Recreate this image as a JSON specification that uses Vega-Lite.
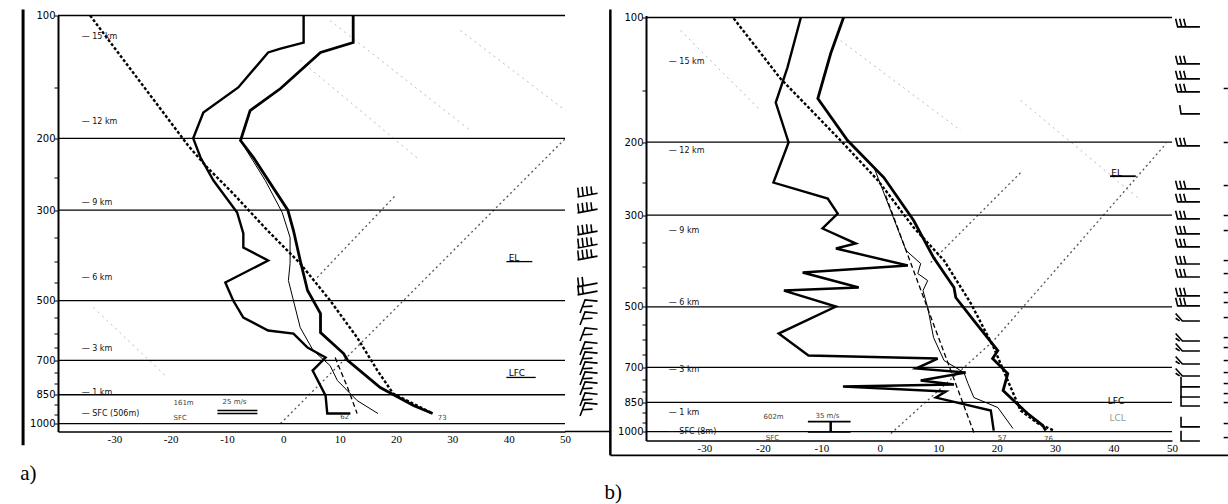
{
"$schema": "https://vega.github.io/schema/vega-lite/v6.json",
"autosize": {"type": "pad"},
"padding": {"left": 20, "top": 7.5, "right": 0, "bottom": 0},
"background": "white",
"bounds": "flush",
"spacing": 81,
"config": {"view": {"stroke": null}, "font": "DejaVu Sans"},
"datasets": {
"aT": [{"i":0,"t":12.4,"p":100},{"i":1,"t":12.4,"p":116.5},{"i":2,"t":6.6,"p":123.2},{"i":3,"t":-0.5,"p":151},{"i":4,"t":-5.9,"p":171},{"i":5,"t":-7.6,"p":202.5},{"i":6,"t":-5.3,"p":222.9},{"i":7,"t":0.8,"p":300},{"i":8,"t":1.8,"p":336.5},{"i":9,"t":3.0,"p":398.6},{"i":10,"t":4.3,"p":472},{"i":11,"t":6.6,"p":537.6},{"i":12,"t":6.6,"p":598.4},{"i":13,"t":10.7,"p":673.7},{"i":14,"t":11.4,"p":700},{"i":15,"t":17.2,"p":816},{"i":16,"t":23.1,"p":903.6},{"i":17,"t":26.5,"p":945}],
"aTd": [{"i":0,"t":3.6,"p":100},{"i":1,"t":3.6,"p":116.5},{"i":2,"t":-0.5,"p":120.5},{"i":3,"t":-2.7,"p":123.2},{"i":4,"t":-8.0,"p":150.1},{"i":5,"t":-14.2,"p":172.9},{"i":6,"t":-16.0,"p":200},{"i":7,"t":-14.7,"p":222.9},{"i":8,"t":-12.4,"p":253.8},{"i":9,"t":-8.2,"p":304},{"i":10,"t":-7.1,"p":342.2},{"i":11,"t":-7.1,"p":370.4},{"i":12,"t":-2.7,"p":398.6},{"i":13,"t":-10.3,"p":451.2},{"i":14,"t":-8.9,"p":499.4},{"i":15,"t":-7.1,"p":549.9},{"i":16,"t":-2.7,"p":591.7},{"i":17,"t":1.8,"p":601.9},{"i":18,"t":4.3,"p":651.3},{"i":19,"t":7.5,"p":689.1},{"i":20,"t":5.2,"p":741.5},{"i":21,"t":7.5,"p":854.1},{"i":22,"t":7.8,"p":945.1},{"i":23,"t":11.9,"p":945.1}],
"aTw": [{"i":0,"t":-7.1,"p":208},{"i":1,"t":-3.2,"p":253.8},{"i":2,"t":-0.2,"p":304},{"i":3,"t":1.2,"p":350},{"i":4,"t":1.2,"p":405.4},{"i":5,"t":0.9,"p":446.1},{"i":6,"t":3.0,"p":581.8},{"i":7,"t":5.3,"p":662.2},{"i":8,"t":8.3,"p":720.9},{"i":9,"t":9.6,"p":784.6},{"i":10,"t":13.1,"p":878.5},{"i":11,"t":16.8,"p":945.1}],
"aParcel": [{"i":0,"t":-34.3,"p":100},{"i":1,"t":-16.9,"p":208.3},{"i":2,"t":-13.5,"p":235.8},{"i":3,"t":-8.9,"p":273.2},{"i":4,"t":-2.8,"p":336.5},{"i":5,"t":3.0,"p":405.4},{"i":6,"t":8.3,"p":499.4},{"i":7,"t":13.1,"p":615.5},{"i":8,"t":16.7,"p":741.5},{"i":9,"t":19.5,"p":844.4},{"i":10,"t":26.5,"p":945.1}],
"aMix": [{"i":0,"t":9.2,"p":689},{"i":1,"t":11.4,"p":816},{"i":2,"t":13.1,"p":945}],
"aIso": [{"g":"a","i":0,"t":-0.5,"p":1000},{"g":"a","i":1,"t":50.1,"p":200},{"g":"b","i":0,"t":6.0,"p":438.7},{"g":"b","i":1,"t":19.9,"p":276.2}],
"aFaint": [{"g":"a","i":0,"t":8.3,"p":102.9},{"g":"a","i":1,"t":33.2,"p":191.3},{"g":"b","i":0,"t":31.4,"p":108.8},{"g":"b","i":1,"t":50.1,"p":171},{"g":"c","i":0,"t":-33.7,"p":519.6},{"g":"c","i":1,"t":-20.6,"p":771.4},{"g":"d","i":0,"t":3.0,"p":128.9},{"g":"d","i":1,"t":24.3,"p":226.7}],
"aRules": [{"p":100},{"p":200},{"p":300},{"p":500},{"p":700},{"p":850},{"p":1000}],
"aKm": [{"label":"— 15 km","t":-35.8,"p":113.2},{"label":"— 12 km","t":-35.8,"p":182.9},{"label":"— 9 km","t":-35.8,"p":287.3},{"label":"— 6 km","t":-35.8,"p":441.1},{"label":"— 3 km","t":-35.8,"p":655},{"label":"— 1 km","t":-35.8,"p":839.5},{"label":"— SFC (506m)","t":-35.8,"p":945}],
"aSmall": [{"label":"161m","t":-19.5,"p":893},{"label":"SFC","t":-19.5,"p":966.8},{"label":"25 m/s","t":-10.8,"p":886},{"label":"73","t":27.4,"p":972},{"label":"62","t":10.1,"p":966}],
"aLvl": [{"label":"EL","t":40.0,"p":392},{"label":"LFC","t":40.0,"p":754}],
"aUnder": [{"t":39.6,"t2":44.2,"p":401},{"t":39.6,"t2":44.8,"p":771},{"t":-11.7,"t2":-4.6,"p":929},{"t":-11.7,"t2":-4.6,"p":945},{"t":50,"t2":58.1,"p":1046}],
"aBarbS": [{"p":271.6},{"p":297.2},{"p":336.5},{"p":362.2},{"p":387.5}],
"aBarbM": [{"p":451.2},{"p":472.1}],
"aBarbL": [{"p":513.8},{"p":549.9},{"p":601.9},{"p":651.3},{"p":689.1},{"p":729.1},{"p":771.4},{"p":816.2},{"p":868.7},{"p":918.9}],
"aTag": [{"label":"a)","t":-46.7,"p":1326}],
"aBar": [{"t":-46.2,"p":96.7,"p2":1130}],
"bT": [{"i":0,"t":-6.2,"p":100},{"i":1,"t":-8.4,"p":122.2},{"i":2,"t":-10.6,"p":156.9},{"i":3,"t":-5.5,"p":198.2},{"i":4,"t":0.7,"p":243.5},{"i":5,"t":5.8,"p":309.2},{"i":6,"t":7.0,"p":332.5},{"i":7,"t":9.2,"p":380},{"i":8,"t":12.7,"p":448.9},{"i":9,"t":13.0,"p":474.6},{"i":10,"t":16.1,"p":539.5},{"i":11,"t":20.2,"p":637.4},{"i":12,"t":19.3,"p":666.4},{"i":13,"t":21.9,"p":724.3},{"i":14,"t":21.1,"p":796.1},{"i":15,"t":22.9,"p":841.6},{"i":16,"t":25.3,"p":904.6},{"i":17,"t":27.9,"p":967.2},{"i":18,"t":28.4,"p":994.5}],
"bTd": [{"i":0,"t":-13.5,"p":100},{"i":1,"t":-15.8,"p":132.1},{"i":2,"t":-17.8,"p":160.5},{"i":3,"t":-15.6,"p":200.4},{"i":4,"t":-18.2,"p":250.4},{"i":5,"t":-8.9,"p":273.6},{"i":6,"t":-7.2,"p":297.5},{"i":7,"t":-9.8,"p":323.3},{"i":8,"t":-4.1,"p":351.5},{"i":9,"t":-7.5,"p":361.4},{"i":10,"t":4.8,"p":397.2},{"i":11,"t":-13.2,"p":413},{"i":12,"t":-3.6,"p":448.9},{"i":13,"t":-16.4,"p":456.5},{"i":14,"t":-7.5,"p":499},{"i":15,"t":-17.3,"p":579.9},{"i":16,"t":-12.2,"p":655.2},{"i":17,"t":9.9,"p":666.4},{"i":18,"t":6.2,"p":704.4},{"i":19,"t":14.7,"p":720.3},{"i":20,"t":7.0,"p":753},{"i":21,"t":12.7,"p":770},{"i":22,"t":-6.3,"p":778.6},{"i":23,"t":11.3,"p":800.6},{"i":24,"t":9.6,"p":827.7},{"i":25,"t":19.0,"p":889.9},{"i":26,"t":19.5,"p":994.5}],
"bTw": [{"i":0,"t":-1.0,"p":230},{"i":1,"t":4.5,"p":365.4},{"i":2,"t":7.0,"p":392.9},{"i":3,"t":6.5,"p":415.4},{"i":4,"t":8.2,"p":431.8},{"i":5,"t":7.4,"p":456.5},{"i":6,"t":8.2,"p":501.8},{"i":7,"t":9.2,"p":593},{"i":8,"t":11.0,"p":673.8},{"i":9,"t":14.4,"p":720.3},{"i":10,"t":15.1,"p":765.7},{"i":11,"t":16.1,"p":827.7},{"i":12,"t":20.2,"p":875},{"i":13,"t":22.8,"p":983.5}],
"bParcel": [{"i":0,"t":-25.0,"p":100.5},{"i":1,"t":-17.0,"p":140.4},{"i":2,"t":-6.7,"p":198.2},{"i":3,"t":-0.3,"p":247.6},{"i":4,"t":5.8,"p":321.5},{"i":5,"t":11.0,"p":386.4},{"i":6,"t":15.6,"p":490.8},{"i":7,"t":19.5,"p":626.8},{"i":8,"t":21.9,"p":753},{"i":9,"t":24.1,"p":889.9},{"i":10,"t":27.1,"p":956.4},{"i":11,"t":29.8,"p":994.5}],
"bMix": [{"i":0,"t":1.0,"p":269.2},{"i":1,"t":16.1,"p":1005}],
"bIso": [{"g":"a","i":0,"t":1.9,"p":1011},{"g":"a","i":1,"t":19.5,"p":602.8},{"g":"a","i":2,"t":49.0,"p":201.6},{"g":"b","i":0,"t":8.7,"p":390.7},{"g":"b","i":1,"t":24.1,"p":237}],
"bFaint": [{"g":"a","i":0,"t":-34.1,"p":107.5},{"g":"a","i":1,"t":-20.4,"p":167.7},{"g":"b","i":0,"t":-6.7,"p":113.7},{"g":"b","i":1,"t":13.9,"p":187.6},{"g":"c","i":0,"t":24.1,"p":158.6},{"g":"c","i":1,"t":44.7,"p":276.6}],
"bRules": [{"p":100},{"p":200},{"p":300},{"p":500},{"p":700},{"p":850},{"p":1000}],
"bKm": [{"label":"— 15 km","t":-36.1,"p":128.4},{"label":"— 12 km","t":-36.1,"p":209.6},{"label":"— 9 km","t":-36.1,"p":327},{"label":"— 6 km","t":-36.1,"p":488},{"label":"— 3 km","t":-36.1,"p":708.4},{"label":"— 1 km","t":-36.1,"p":899.7},{"label":"— SFC (8m)","t":-36.1,"p":1002}],
"bSmall": [{"label":"602m","t":-19.9,"p":919.9},{"label":"SFC","t":-19.5,"p":1034},{"label":"35 m/s","t":-11.0,"p":915},{"label":"57","t":20.2,"p":1034},{"label":"76","t":28.1,"p":1040}],
"bLvl": [{"label":"EL","t":39.6,"p":237},{"label":"LFC","t":39.0,"p":841.6}],
"bGray": [{"label":"LCL","t":39.3,"p":926}],
"bUnder": [{"t":39.4,"t2":43.8,"p":241.7},{"t":-12.3,"t2":-5.0,"p":945.9},{"t":-12.3,"t2":-5.0,"p":1002},{"t":-46.1,"t2":59.8,"p":1141}],
"bVert": [{"t":-8.4,"p":945.9,"p2":1002},{"t":-46.1,"p":95.6,"p2":1141}],
"bBarbS": [{"p":103.4},{"p":127.0},{"p":138.1},{"p":148.4},{"p":200.4},{"p":254.6},{"p":273.6},{"p":300.8},{"p":327.0},{"p":351.5},{"p":386.4},{"p":415.4},{"p":461.6},{"p":488.0}],
"bBarb1": [{"p":167.7}],
"bBarbC": [{"p":530.5},{"p":593.0},{"p":626.8},{"p":673.8},{"p":720.3}],
"bBarbL": [{"p":765.7},{"p":809.6},{"p":851.1},{"p":956.4},{"p":1034}],
"bDash": [{"p":148.4},{"p":200.4},{"p":254.6},{"p":300.8},{"p":327},{"p":386.4},{"p":415.4},{"p":461.6},{"p":488},{"p":530.5},{"p":593},{"p":626.8},{"p":673.8},{"p":720.3},{"p":765.7},{"p":809.6},{"p":851.1},{"p":956.4},{"p":1034}],
"bTag": [{"label":"b)","t":-47.1,"p":1404}]
},
"hconcat": [
{
"width": 507, "height": 416,
"layer": [
{"data": {"name": "aFaint"}, "mark": {"type": "line", "color": "#bbbbbb", "strokeWidth": 1, "strokeDash": [2, 4], "clip": false},
 "encoding": {
  "x": {"field": "t", "type": "quantitative", "title": null, "scale": {"domain": [-40, 50], "nice": false, "zero": false},
        "axis": {"values": [-30,-20,-10,0,10,20,30,40,50], "labelExpr": "toString(datum.value)", "ticks": false, "labelPadding": 2, "domainColor": "black", "domainWidth": 1.5, "labelFont": "Liberation Serif", "labelFontSize": 11, "labelColor": "black", "grid": false, "labelFlush": false, "labelOverlap": false, "title": null}},
  "y": {"field": "p", "type": "quantitative", "title": null, "scale": {"type": "log", "domain": [100, 1046], "reverse": true, "nice": false},
        "axis": {"values": [100,150,200,250,300,350,400,450,500,550,600,650,700,750,800,850,900,950,1000], "labelExpr": "indexof([100,200,300,500,700,850,1000], datum.value) >= 0 ? toString(datum.value) : ''", "tickSize": 4, "tickColor": "black", "domainColor": "black", "domainWidth": 2, "labelFont": "DejaVu Sans", "labelFontSize": 10, "labelColor": "black", "labelPadding": -1, "grid": false, "labelOverlap": false, "labelFlush": false, "title": null}},
  "detail": {"field": "g"}, "order": {"field": "i"}}},
{"data": {"name": "aIso"}, "mark": {"type": "line", "color": "#555555", "strokeWidth": 1.3, "strokeDash": [2, 3], "clip": false},
 "encoding": {"x": {"field": "t", "type": "quantitative", "title": null}, "y": {"field": "p", "type": "quantitative", "title": null}, "detail": {"field": "g"}, "order": {"field": "i"}}},
{"data": {"name": "aRules"}, "mark": {"type": "rule", "color": "black", "strokeWidth": 1.3},
 "encoding": {"y": {"field": "p", "type": "quantitative", "title": null}}},
{"data": {"name": "aMix"}, "mark": {"type": "line", "color": "black", "strokeWidth": 1.3, "strokeDash": [5, 3]},
 "encoding": {"x": {"field": "t", "type": "quantitative", "title": null}, "y": {"field": "p", "type": "quantitative", "title": null}, "order": {"field": "i"}}},
{"data": {"name": "aTw"}, "mark": {"type": "line", "color": "black", "strokeWidth": 1},
 "encoding": {"x": {"field": "t", "type": "quantitative", "title": null}, "y": {"field": "p", "type": "quantitative", "title": null}, "order": {"field": "i"}}},
{"data": {"name": "aParcel"}, "mark": {"type": "line", "color": "black", "strokeWidth": 2.4, "strokeDash": [3, 2]},
 "encoding": {"x": {"field": "t", "type": "quantitative", "title": null}, "y": {"field": "p", "type": "quantitative", "title": null}, "order": {"field": "i"}}},
{"data": {"name": "aTd"}, "mark": {"type": "line", "color": "black", "strokeWidth": 2.4},
 "encoding": {"x": {"field": "t", "type": "quantitative", "title": null}, "y": {"field": "p", "type": "quantitative", "title": null}, "order": {"field": "i"}}},
{"data": {"name": "aT"}, "mark": {"type": "line", "color": "black", "strokeWidth": 2.8},
 "encoding": {"x": {"field": "t", "type": "quantitative", "title": null}, "y": {"field": "p", "type": "quantitative", "title": null}, "order": {"field": "i"}}},
{"data": {"name": "aUnder"}, "mark": {"type": "rule", "color": "black", "strokeWidth": 1.3, "clip": false},
 "encoding": {"x": {"field": "t", "type": "quantitative", "title": null}, "x2": {"field": "t2"}, "y": {"field": "p", "type": "quantitative", "title": null}}},
{"data": {"name": "aBar"}, "mark": {"type": "rule", "color": "black", "strokeWidth": 3, "clip": false},
 "encoding": {"x": {"field": "t", "type": "quantitative", "title": null}, "y": {"field": "p", "type": "quantitative", "title": null}, "y2": {"field": "p2"}}},
{"data": {"name": "aKm"}, "mark": {"type": "text", "align": "left", "fontSize": 8, "font": "DejaVu Sans", "color": "#111111", "clip": false},
 "encoding": {"x": {"field": "t", "type": "quantitative", "title": null}, "y": {"field": "p", "type": "quantitative", "title": null}, "text": {"field": "label"}}},
{"data": {"name": "aSmall"}, "mark": {"type": "text", "align": "left", "fontSize": 7, "font": "DejaVu Sans", "color": "#444444", "clip": false},
 "encoding": {"x": {"field": "t", "type": "quantitative", "title": null}, "y": {"field": "p", "type": "quantitative", "title": null}, "text": {"field": "label"}}},
{"data": {"name": "aLvl"}, "mark": {"type": "text", "align": "left", "fontSize": 9, "font": "DejaVu Sans", "color": "black", "clip": false},
 "encoding": {"x": {"field": "t", "type": "quantitative", "title": null}, "y": {"field": "p", "type": "quantitative", "title": null}, "text": {"field": "label"}}},
{"data": {"name": "aBarbS"}, "mark": {"type": "point", "filled": false, "color": "black", "strokeWidth": 1.6, "opacity": 1, "size": 625, "clip": false, "shape": "M-0.8,0.35L0.8,0.05M-0.7,0.33L-0.78,-0.4M-0.35,0.27L-0.43,-0.45M0,0.2L-0.08,-0.5M0.35,0.14L0.27,-0.5"},
 "encoding": {"x": {"datum": 54.0, "type": "quantitative", "title": null}, "y": {"field": "p", "type": "quantitative", "title": null}}},
{"data": {"name": "aBarbM"}, "mark": {"type": "point", "filled": false, "color": "black", "strokeWidth": 1.6, "opacity": 1, "size": 625, "clip": false, "shape": "M-0.8,0.35L0.8,0.05M-0.7,0.33L-0.78,-0.4M-0.35,0.27L-0.43,-0.45"},
 "encoding": {"x": {"datum": 54.0, "type": "quantitative", "title": null}, "y": {"field": "p", "type": "quantitative", "title": null}}},
{"data": {"name": "aBarbL"}, "mark": {"type": "point", "filled": false, "color": "black", "strokeWidth": 1.6, "opacity": 1, "size": 625, "clip": false, "shape": "M-0.6,0.6L-0.2,-0.45L0.8,-0.35M-0.4,0.1L0.4,0.05"},
 "encoding": {"x": {"datum": 54.0, "type": "quantitative", "title": null}, "y": {"field": "p", "type": "quantitative", "title": null}}},
{"data": {"name": "aTag"}, "mark": {"type": "text", "align": "left", "fontSize": 21, "font": "Liberation Serif", "color": "black", "clip": false},
 "encoding": {"x": {"field": "t", "type": "quantitative", "title": null}, "y": {"field": "p", "type": "quantitative", "title": null}, "text": {"field": "label"}}}
]
},
{
"width": 526, "height": 425,
"layer": [
{"data": {"name": "bFaint"}, "mark": {"type": "line", "color": "#bbbbbb", "strokeWidth": 1, "strokeDash": [2, 4], "clip": false},
 "encoding": {
  "x": {"field": "t", "type": "quantitative", "title": null, "scale": {"domain": [-40, 50], "nice": false, "zero": false},
        "axis": {"values": [-30,-20,-10,0,10,20,30,40,50], "labelExpr": "toString(datum.value)", "ticks": false, "labelPadding": 2, "domainColor": "black", "domainWidth": 1.5, "labelFont": "Liberation Serif", "labelFontSize": 11, "labelColor": "black", "grid": false, "labelFlush": false, "labelOverlap": false, "title": null}},
  "y": {"field": "p", "type": "quantitative", "title": null, "scale": {"type": "log", "domain": [98.9, 1051], "reverse": true, "nice": false},
        "axis": {"values": [100,150,200,250,300,350,400,450,500,550,600,650,700,750,800,850,900,950,1000], "labelExpr": "indexof([100,200,300,500,700,850,1000], datum.value) >= 0 ? toString(datum.value) : ''", "tickSize": 4, "tickColor": "black", "domainColor": "black", "domainWidth": 2, "labelFont": "DejaVu Sans", "labelFontSize": 10, "labelColor": "black", "labelPadding": -1, "grid": false, "labelOverlap": false, "labelFlush": false, "title": null}},
  "detail": {"field": "g"}, "order": {"field": "i"}}},
{"data": {"name": "bIso"}, "mark": {"type": "line", "color": "#555555", "strokeWidth": 1.3, "strokeDash": [2, 3], "clip": false},
 "encoding": {"x": {"field": "t", "type": "quantitative", "title": null}, "y": {"field": "p", "type": "quantitative", "title": null}, "detail": {"field": "g"}, "order": {"field": "i"}}},
{"data": {"name": "bRules"}, "mark": {"type": "rule", "color": "black", "strokeWidth": 1.3},
 "encoding": {"y": {"field": "p", "type": "quantitative", "title": null}}},
{"data": {"name": "bMix"}, "mark": {"type": "line", "color": "black", "strokeWidth": 1.3, "strokeDash": [5, 3]},
 "encoding": {"x": {"field": "t", "type": "quantitative", "title": null}, "y": {"field": "p", "type": "quantitative", "title": null}, "order": {"field": "i"}}},
{"data": {"name": "bTw"}, "mark": {"type": "line", "color": "black", "strokeWidth": 1},
 "encoding": {"x": {"field": "t", "type": "quantitative", "title": null}, "y": {"field": "p", "type": "quantitative", "title": null}, "order": {"field": "i"}}},
{"data": {"name": "bParcel"}, "mark": {"type": "line", "color": "black", "strokeWidth": 2.4, "strokeDash": [3, 2]},
 "encoding": {"x": {"field": "t", "type": "quantitative", "title": null}, "y": {"field": "p", "type": "quantitative", "title": null}, "order": {"field": "i"}}},
{"data": {"name": "bTd"}, "mark": {"type": "line", "color": "black", "strokeWidth": 2.4},
 "encoding": {"x": {"field": "t", "type": "quantitative", "title": null}, "y": {"field": "p", "type": "quantitative", "title": null}, "order": {"field": "i"}}},
{"data": {"name": "bT"}, "mark": {"type": "line", "color": "black", "strokeWidth": 2.8},
 "encoding": {"x": {"field": "t", "type": "quantitative", "title": null}, "y": {"field": "p", "type": "quantitative", "title": null}, "order": {"field": "i"}}},
{"data": {"name": "bUnder"}, "mark": {"type": "rule", "color": "black", "strokeWidth": 1.8, "clip": false},
 "encoding": {"x": {"field": "t", "type": "quantitative", "title": null}, "x2": {"field": "t2"}, "y": {"field": "p", "type": "quantitative", "title": null}}},
{"data": {"name": "bVert"}, "mark": {"type": "rule", "color": "black", "strokeWidth": 2.5, "clip": false},
 "encoding": {"x": {"field": "t", "type": "quantitative", "title": null}, "y": {"field": "p", "type": "quantitative", "title": null}, "y2": {"field": "p2"}}},
{"data": {"name": "bKm"}, "mark": {"type": "text", "align": "left", "fontSize": 8, "font": "DejaVu Sans", "color": "#111111", "clip": false},
 "encoding": {"x": {"field": "t", "type": "quantitative", "title": null}, "y": {"field": "p", "type": "quantitative", "title": null}, "text": {"field": "label"}}},
{"data": {"name": "bSmall"}, "mark": {"type": "text", "align": "left", "fontSize": 7, "font": "DejaVu Sans", "color": "#444444", "clip": false},
 "encoding": {"x": {"field": "t", "type": "quantitative", "title": null}, "y": {"field": "p", "type": "quantitative", "title": null}, "text": {"field": "label"}}},
{"data": {"name": "bLvl"}, "mark": {"type": "text", "align": "left", "fontSize": 9, "font": "DejaVu Sans", "color": "black", "clip": false},
 "encoding": {"x": {"field": "t", "type": "quantitative", "title": null}, "y": {"field": "p", "type": "quantitative", "title": null}, "text": {"field": "label"}}},
{"data": {"name": "bGray"}, "mark": {"type": "text", "align": "left", "fontSize": 9, "font": "DejaVu Sans", "color": "#999999", "clip": false},
 "encoding": {"x": {"field": "t", "type": "quantitative", "title": null}, "y": {"field": "p", "type": "quantitative", "title": null}, "text": {"field": "label"}}},
{"data": {"name": "bBarbS"}, "mark": {"type": "point", "filled": false, "color": "black", "strokeWidth": 1.6, "opacity": 1, "size": 729, "clip": false, "shape": "M-0.9,-0.35L-0.75,0.25M-0.6,-0.35L-0.45,0.25M-0.3,-0.35L-0.15,0.25M-0.8,0.25L0.9,0.25"},
 "encoding": {"x": {"datum": 52.7, "type": "quantitative", "title": null}, "y": {"field": "p", "type": "quantitative", "title": null}}},
{"data": {"name": "bBarb1"}, "mark": {"type": "point", "filled": false, "color": "black", "strokeWidth": 1.6, "opacity": 1, "size": 729, "clip": false, "shape": "M-0.6,-0.4L-0.5,0.25L0.9,0.25"},
 "encoding": {"x": {"datum": 52.7, "type": "quantitative", "title": null}, "y": {"field": "p", "type": "quantitative", "title": null}}},
{"data": {"name": "bBarbC"}, "mark": {"type": "point", "filled": false, "color": "black", "strokeWidth": 1.6, "opacity": 1, "size": 729, "clip": false, "shape": "M-0.9,-0.3L-0.4,0.25L0.9,0.25M-0.9,0.05L-0.6,0.25"},
 "encoding": {"x": {"datum": 52.7, "type": "quantitative", "title": null}, "y": {"field": "p", "type": "quantitative", "title": null}}},
{"data": {"name": "bBarbL"}, "mark": {"type": "point", "filled": false, "color": "black", "strokeWidth": 1.6, "opacity": 1, "size": 729, "clip": false, "shape": "M-0.5,-0.5L-0.5,0.25L0.9,0.25"},
 "encoding": {"x": {"datum": 52.7, "type": "quantitative", "title": null}, "y": {"field": "p", "type": "quantitative", "title": null}}},
{"data": {"name": "bDash"}, "mark": {"type": "point", "filled": false, "color": "black", "strokeWidth": 1.5, "opacity": 1, "size": 49, "clip": false, "shape": "M-0.6,0L0.6,0"},
 "encoding": {"x": {"datum": 59.2, "type": "quantitative", "title": null}, "y": {"field": "p", "type": "quantitative", "title": null}}},
{"data": {"name": "bTag"}, "mark": {"type": "text", "align": "left", "fontSize": 21, "font": "Liberation Serif", "color": "black", "clip": false},
 "encoding": {"x": {"field": "t", "type": "quantitative", "title": null}, "y": {"field": "p", "type": "quantitative", "title": null}, "text": {"field": "label"}}}
]
}
]
}
